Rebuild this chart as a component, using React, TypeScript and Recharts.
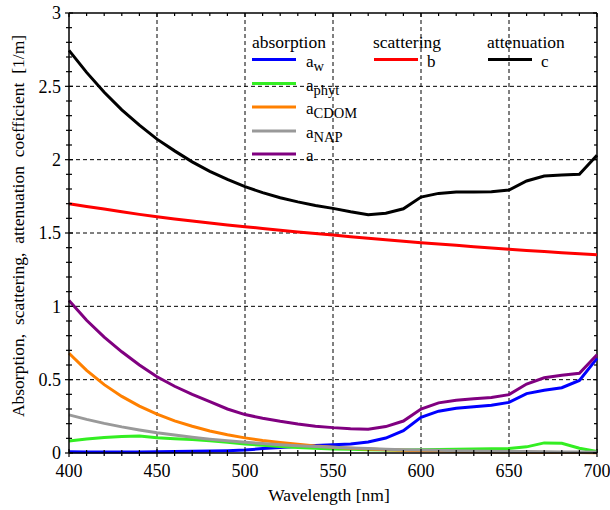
import React from "react";
import { CartesianGrid, Line, LineChart, ReferenceLine, XAxis, YAxis } from "recharts";

// wavelength grid, nm
const wavelength = [
  400, 410, 420, 430, 440, 450, 460, 470, 480, 490, 500, 510, 520, 530, 540, 550,
  560, 570, 580, 590, 600, 610, 620, 630, 640, 650, 660, 670, 680, 690, 700,
];

// absorption components, 1/m
const aW = [
  0.008, 0.007, 0.006, 0.006, 0.007, 0.009, 0.01, 0.012, 0.014, 0.016, 0.02, 0.03, 0.038, 0.045, 0.051, 0.057,
  0.062, 0.075, 0.102, 0.152, 0.243, 0.285, 0.305, 0.315, 0.325, 0.345, 0.405, 0.428, 0.445, 0.495, 0.645,
];
const aPhyt = [
  0.082, 0.095, 0.105, 0.112, 0.116, 0.104, 0.098, 0.092, 0.084, 0.073, 0.062, 0.052, 0.044, 0.037, 0.032, 0.028,
  0.025, 0.022, 0.021, 0.021, 0.022, 0.024, 0.026, 0.028, 0.029, 0.031, 0.042, 0.069, 0.066, 0.032, 0.01,
];
const aCdom = [
  0.68, 0.563, 0.466, 0.386, 0.32, 0.265, 0.219, 0.182, 0.15, 0.125, 0.103, 0.085, 0.071, 0.059, 0.048, 0.04,
  0.033, 0.027, 0.023, 0.019, 0.016, 0.013, 0.011, 0.009, 0.007, 0.006, 0.005, 0.004, 0.0035, 0.003, 0.0025,
];
const aNap = [
  0.26, 0.229, 0.202, 0.178, 0.157, 0.138, 0.122, 0.107, 0.094, 0.083, 0.073, 0.064, 0.057, 0.05, 0.044, 0.039,
  0.034, 0.03, 0.026, 0.023, 0.02, 0.018, 0.016, 0.014, 0.012, 0.011, 0.01, 0.008, 0.007, 0.006, 0.006,
];
const aTotal = [
  1.04, 0.905, 0.79, 0.69, 0.6, 0.52, 0.455, 0.4, 0.35, 0.3, 0.262, 0.237, 0.216, 0.198, 0.183, 0.173,
  0.166, 0.162, 0.18, 0.218, 0.3, 0.342, 0.36, 0.37, 0.378, 0.398, 0.47, 0.513, 0.53, 0.543, 0.67,
];
// scattering and attenuation, 1/m
const bScat = [
  1.7, 1.681, 1.663, 1.645, 1.627, 1.611, 1.596, 1.582, 1.568, 1.555, 1.543, 1.531, 1.519, 1.507, 1.496, 1.486,
  1.475, 1.464, 1.454, 1.444, 1.434, 1.425, 1.416, 1.407, 1.398, 1.389, 1.381, 1.374, 1.366, 1.359, 1.352,
];
const cAtt = [
  2.745, 2.595, 2.46, 2.34, 2.235, 2.14, 2.06, 1.985, 1.92, 1.865, 1.816, 1.775, 1.74, 1.712, 1.688, 1.668,
  1.645, 1.625, 1.635, 1.665, 1.745, 1.77, 1.78, 1.78, 1.782, 1.793, 1.855, 1.889, 1.895, 1.9, 2.03,
];

const xMajor = [400, 450, 500, 550, 600, 650, 700];
const yMajor = [0, 0.5, 1, 1.5, 2, 2.5, 3];
const yMinor = [
  0, 0.1, 0.2, 0.3, 0.4, 0.5, 0.6, 0.7, 0.8, 0.9, 1, 1.1, 1.2, 1.3, 1.4, 1.5,
  1.6, 1.7, 1.8, 1.9, 2, 2.1, 2.2, 2.3, 2.4, 2.5, 2.6, 2.7, 2.8, 2.9, 3,
];

const absorptionSeries = [
  { key: "aw", sub: "w", color: "#0000ff", values: aW },
  { key: "aphyt", sub: "phyt", color: "#33ee22", values: aPhyt },
  { key: "acdom", sub: "CDOM", color: "#ff8000", values: aCdom },
  { key: "anap", sub: "NAP", color: "#999999", values: aNap },
  { key: "a", sub: "", color: "#800080", values: aTotal },
];
const otherSeries = [
  { key: "b", title: "scattering", color: "#ff0000", values: bScat },
  { key: "c", title: "attenuation", color: "#000000", values: cAtt },
];
const allSeries = [...absorptionSeries, ...otherSeries];

const data = wavelength.map((wl, i) => {
  const row: Record<string, number> = { wl };
  allSeries.forEach((s) => (row[s.key] = s.values[i]));
  return row;
});

const W = 610;
const H = 510;
const PLOT = { left: 69, right: 597, top: 13, bottom: 453 };
const serif = { fontFamily: "'Liberation Serif', 'Times New Roman', serif" };

function XTick(props: any) {
  const { x, payload } = props;
  const v = payload.value;
  const major = xMajor.includes(v);
  const len = major ? 4 : 3;
  return (
    <g>
      <line x1={x} x2={x} y1={PLOT.bottom - len} y2={PLOT.bottom + len} stroke="#000" strokeWidth={1.2} />
      <line x1={x} x2={x} y1={PLOT.top} y2={PLOT.top + len} stroke="#000" strokeWidth={1.2} />
      {major && (
        <text x={x} y={PLOT.bottom + 24} textAnchor="middle" style={serif} fontSize={18} fill="#000">
          {v}
        </text>
      )}
    </g>
  );
}

function YTick(props: any) {
  const { y, payload } = props;
  const v = payload.value;
  const major = yMajor.includes(v);
  const len = major ? 4 : 3;
  return (
    <g>
      <line x1={PLOT.left - len} x2={PLOT.left + len} y1={y} y2={y} stroke="#000" strokeWidth={1.2} />
      <line x1={PLOT.right - len} x2={PLOT.right} y1={y} y2={y} stroke="#000" strokeWidth={1.2} />
      {major && (
        <text x={PLOT.left - 8} y={y} dy="0.35em" textAnchor="end" style={serif} fontSize={18} fill="#000">
          {v}
        </text>
      )}
    </g>
  );
}

function Legend() {
  const rowY = [59.5, 83.5, 107, 131, 154];
  return (
    <svg
      width={W}
      height={H}
      style={{ position: "absolute", left: 0, top: 0, pointerEvents: "none", ...serif }}
    >
      <text x={252} y={47.5} fontSize={17.5} style={serif}>absorption</text>
      {absorptionSeries.map((s, i) => (
        <g key={s.key}>
          <line x1={252} x2={296} y1={rowY[i]} y2={rowY[i]} stroke={s.color} strokeWidth={3} />
          <text x={306} y={rowY[i] + 7} fontSize={17} style={serif}>
            a
            {s.sub && (
              <tspan fontSize={14.5} dy={4}>
                {s.sub}
              </tspan>
            )}
          </text>
        </g>
      ))}
      {otherSeries.map((s, i) => {
        const x0 = i === 0 ? 373 : 487;
        return (
          <g key={s.key}>
            <text x={x0} y={47.5} fontSize={17.5} style={serif}>{s.title}</text>
            <line x1={x0 + 1} x2={x0 + 45} y1={rowY[0]} y2={rowY[0]} stroke={s.color} strokeWidth={3} />
            <text x={x0 + 54} y={rowY[0] + 7} fontSize={17} style={serif}>{s.key}</text>
          </g>
        );
      })}
      <text x={329} y={501} fontSize={17.5} textAnchor="middle" style={serif}>Wavelength [nm]</text>
      <text
        x={18}
        y={226}
        fontSize={17.5}
        textAnchor="middle"
        dominantBaseline="central"
        wordSpacing={4.5}
        transform="rotate(-90 18 226)"
        style={serif}
      >
        Absorption, scattering, attenuation coefficient [1/m]
      </text>
    </svg>
  );
}

export default function App() {
  return (
    <div style={{ position: "absolute", left: 0, top: 0, width: W, height: H, background: "#fff" }}>
      <LineChart
        width={W}
        height={H}
        data={data}
        margin={{ top: PLOT.top, right: W - PLOT.right, bottom: 27, left: 9 }}
      >
        <CartesianGrid
          stroke="#000"
          strokeDasharray="4 3"
          strokeWidth={1}
          horizontalValues={[0.5, 1, 1.5, 2, 2.5]}
          verticalValues={[450, 500, 550, 600, 650]}
        />
        <XAxis
          dataKey="wl"
          type="number"
          domain={[400, 700]}
          ticks={wavelength}
          interval={0}
          tickLine={false}
          axisLine={{ stroke: "#000", strokeWidth: 1.5 }}
          tick={<XTick />}
          height={30}
        />
        <YAxis
          type="number"
          domain={[0, 3]}
          ticks={yMinor}
          interval={0}
          tickLine={false}
          axisLine={{ stroke: "#000", strokeWidth: 1.5 }}
          tick={<YTick />}
          width={60}
        />
        <ReferenceLine y={3} stroke="#000" strokeWidth={1.5} />
        <ReferenceLine x={700} stroke="#000" strokeWidth={1.5} />
        {allSeries.map((s) => (
          <Line
            key={s.key}
            type="linear"
            dataKey={s.key}
            stroke={s.color}
            strokeWidth={3}
            dot={false}
            isAnimationActive={false}
          />
        ))}
      </LineChart>
      <Legend />
    </div>
  );
}
